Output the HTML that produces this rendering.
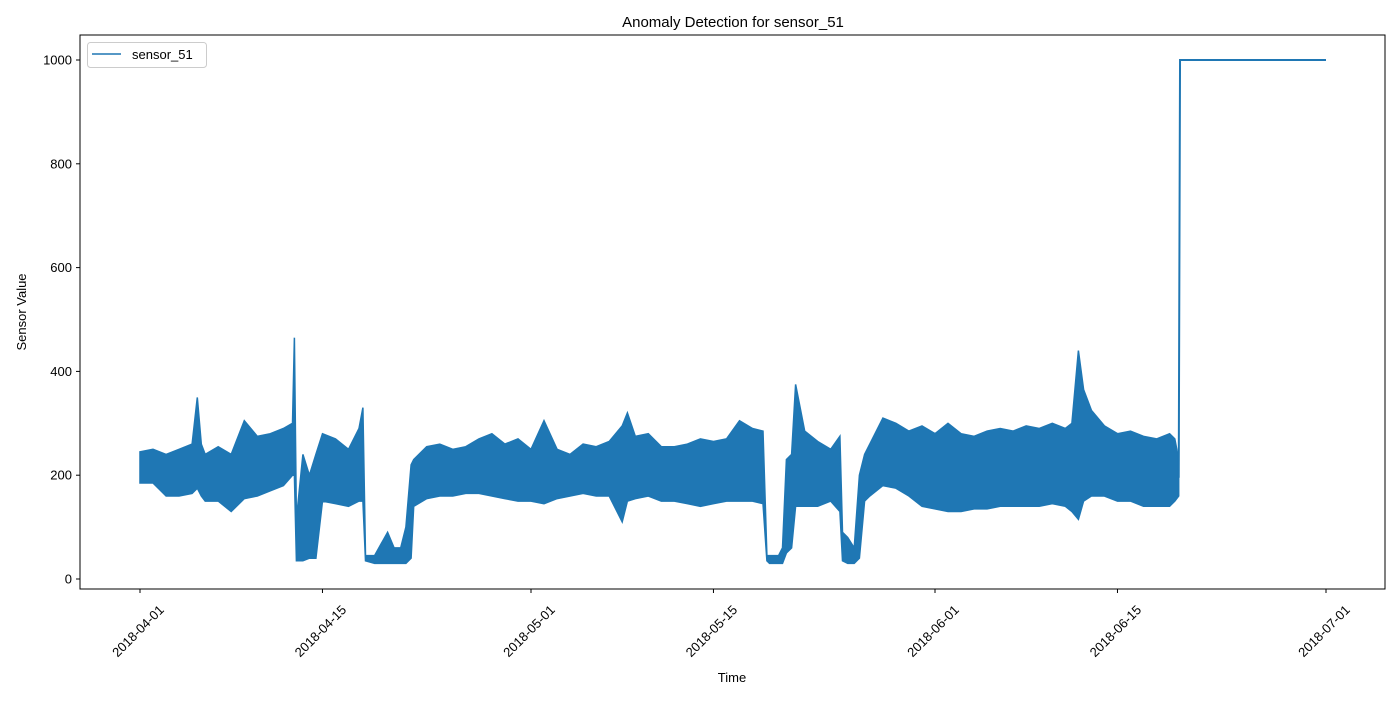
<!DOCTYPE html>
<html><head><meta charset="utf-8"><style>
body{margin:0;background:#fff;}
svg text{font-family:"Liberation Sans","DejaVu Sans",sans-serif;fill:#000;}
</style></head><body>
<svg id="chart" width="1400" height="700" xmlns="http://www.w3.org/2000/svg"></svg>
<script>
// data: days since 2018-04-01, envelope low/high of sensor_51
const days  = [0,1,2,3,4,4.4,4.7,5,6,7,
  8,9,10,11,11.7,11.85,12,12.5,13,13.5,
  14,15,16,16.8,17.1,17.3,18,19,19.5,20,
  20.4,20.8,21,22,23,24,25,26,27,28,
  29,30,31,32,33,34,35,36,37,37.4,
  38,39,40,41,42,43,44,45,46,47,
  47.8,48.1,48.3,49,49.3,49.6,50,50.3,51,52,
  53,53.7,53.9,54.3,54.8,55.2,55.6,56,57,58,
  59,60,61,62,63,64,65,66,67,68,
  69,70,71,71.5,72,72.4,73,74,75,76,
  77,78,79,79.4,79.7];
const lows  = [185,185,160,160,165,175,160,150,150,130,
  155,160,170,180,200,200,35,35,40,40,
  150,145,140,150,150,35,30,30,30,30,
  30,40,140,155,160,160,165,165,160,155,
  150,150,145,155,160,165,160,160,110,150,
  155,160,150,150,145,140,145,150,150,150,
  145,35,30,30,30,50,60,140,140,140,
  150,130,35,30,30,40,150,160,180,175,
  160,140,135,130,130,135,135,140,140,140,
  140,145,140,130,115,150,160,160,150,150,
  140,140,140,150,160];
const highs = [245,250,240,250,260,350,260,240,255,240,
  305,275,280,290,300,465,115,240,200,240,
  280,270,250,290,330,45,45,90,60,60,
  100,220,230,255,260,250,255,270,280,260,
  270,250,305,250,240,260,255,265,295,320,
  275,280,255,255,260,270,265,270,305,290,
  285,45,45,45,60,230,240,375,285,265,
  250,275,90,80,60,200,240,260,310,300,
  285,295,280,300,280,275,285,290,285,295,
  290,300,290,300,440,365,325,295,280,285,
  275,270,280,270,230];
const stepDay = 79.8, stepEnd = 91, stepVal = 1000;
const yTicks = [0,200,400,600,800,1000];
const xTickLabels = ["2018-04-01","2018-04-15","2018-05-01","2018-05-15","2018-06-01","2018-06-15","2018-07-01"];
const xTickDays = [0,14,30,44,61,75,91];

const svg = document.getElementById('chart');
const NS = "http://www.w3.org/2000/svg";
const L=80,R=1385,T=35,B=589;
const xs = d => 140 + d*(1326-140)/91;
const ys = v => 579 - v*(579-60)/1000;
function mk(tag, attrs, parent){const e=document.createElementNS(NS,tag);for(const k in attrs)e.setAttribute(k,attrs[k]);(parent||svg).appendChild(e);return e;}

let t=mk('text',{x:733,y:27,'text-anchor':'middle','font-size':15});t.textContent='Anomaly Detection for sensor_51';


t=mk('text',{x:732,y:682,'text-anchor':'middle','font-size':13});t.textContent='Time';


t=mk('text',{x:26,y:312,'text-anchor':'middle','font-size':13,transform:'rotate(-90 26 312)'});t.textContent='Sensor Value';



const n=Math.min(days.length,lows.length,highs.length);
let pts=[];
for(let i=0;i<n;i++)pts.push(xs(days[i]).toFixed(1)+','+ys(highs[i]).toFixed(1));
for(let i=n-1;i>=0;i--)pts.push(xs(days[i]).toFixed(1)+','+ys(lows[i]).toFixed(1));
const band=mk('polygon',{points:pts.join(' '),fill:'#1f77b4',stroke:'#1f77b4','stroke-width':1.5,'stroke-linejoin':'miter'});


const last=n-1;
const step=mk('polyline',{points:`${xs(days[last])},${ys((lows[last]+highs[last])/2)} ${xs(stepDay)},${ys(stepVal)} ${xs(stepEnd)},${ys(stepVal)}`,fill:'none',stroke:'#1f77b4','stroke-width':2});



const fr=mk('rect',{x:L,y:T,width:R-L,height:B-T,fill:'none',stroke:'#000','stroke-width':1});



yTicks.forEach(v=>{
  mk('line',{x1:L-4,x2:L,y1:ys(v),y2:ys(v),stroke:'#000'});
  const tx=mk('text',{x:L-8,y:ys(v)+4.5,'text-anchor':'end','font-size':13});tx.textContent=v;
  
  
});
xTickDays.forEach((d,i)=>{
  const x=xs(d);
  mk('line',{x1:x,x2:x,y1:B,y2:B+4,stroke:'#000'});
  const cy=B+42;
  const tx=mk('text',{x:x-2,y:cy+4.5,'text-anchor':'middle','font-size':13,transform:`rotate(-45 ${x-2} ${cy})`});tx.textContent=xTickLabels[i];
  
  
});

const g=mk('g',{});


mk('rect',{x:87.5,y:42.5,width:119,height:25,rx:3,fill:'#fff',stroke:'#ccc'},g);
mk('line',{x1:92,x2:121,y1:54,y2:54,stroke:'#1f77b4','stroke-width':1.5},g);
const lt=mk('text',{x:132,y:59,'font-size':13},g);lt.textContent='sensor_51';
</script>
</body></html>
